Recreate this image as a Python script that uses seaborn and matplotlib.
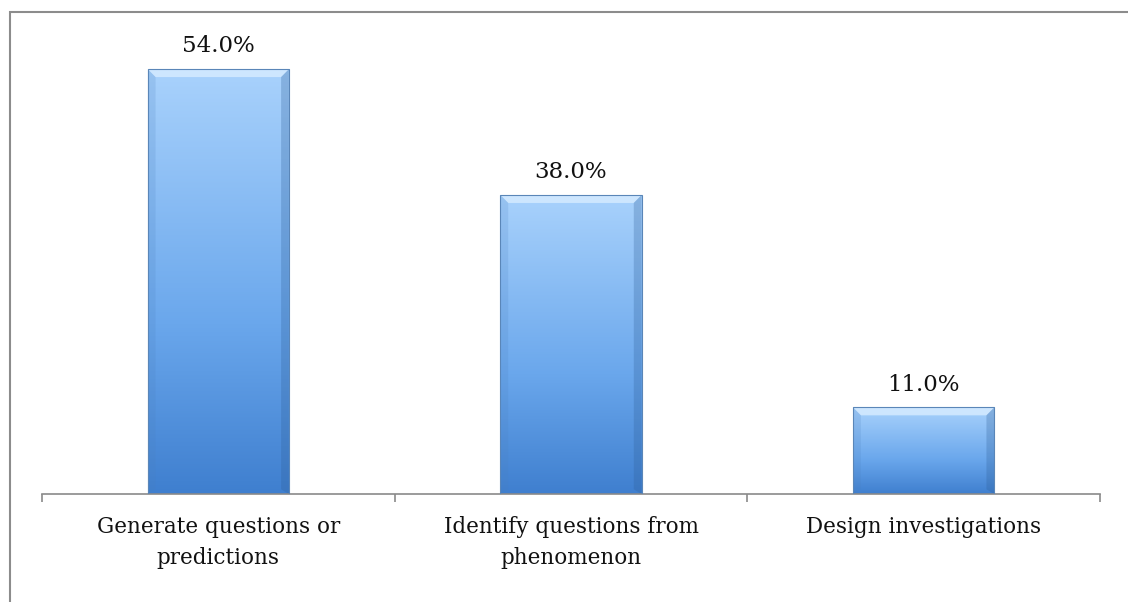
import numpy as np
import pandas as pd
import matplotlib
matplotlib.use("Agg")
import matplotlib.pyplot as plt
import seaborn as sns
from matplotlib.patches import Rectangle, Polygon
from matplotlib.colors import LinearSegmentedColormap

categories = ["Generate questions or\npredictions",
              "Identify questions from\nphenomenon",
              "Design investigations"]
values = [54.0, 38.0, 11.0]

df = pd.DataFrame({"category": categories, "value": values})

sns.set_theme(style="white")
plt.rcParams["font.family"] = ["DejaVu Serif"]

fig = plt.figure(figsize=(11.28, 6.02), dpi=100)
ax = fig.add_axes([42 / 1128, 1 - 494 / 602, (1100 - 42) / 1128, 472 / 602])

sns.barplot(data=df, x="category", y="value", color="#6fa8e8", width=0.40,
            ax=ax, saturation=1)

# gradient fill clipped to each bar, plus a simple bevel
cmap = LinearSegmentedColormap.from_list(
    "bar", [(0, "#3f7fcf"), (0.4, "#6aa7ec"), (1, "#a9d2fc")])
grad = np.linspace(0, 1, 256).reshape(-1, 1)
bx, by = 0.022, 1.0
for p in ax.patches:
    x0, y0 = p.get_x(), p.get_y()
    w, h = p.get_width(), p.get_height()
    p.set_facecolor("none")
    p.set_edgecolor("#5a86b8")
    p.set_linewidth(0.8)
    p.set_zorder(4)
    im = ax.imshow(grad, cmap=cmap, aspect="auto", origin="lower",
                   extent=[x0, x0 + w, y0, y0 + h], zorder=1)
    im.set_clip_path(p)
    x1, y1 = x0 + w, y0 + h
    ax.add_patch(Polygon([(x0, y1), (x1, y1), (x1 - bx, y1 - by), (x0 + bx, y1 - by)],
                         facecolor="#d2e9ff", edgecolor="none", zorder=2, alpha=0.9))
    ax.add_patch(Polygon([(x0, y0), (x0 + bx, y0 + by * 0.6), (x0 + bx, y1 - by), (x0, y1)],
                         facecolor="#4a7fbd", edgecolor="none", zorder=2, alpha=0.18))
    ax.add_patch(Polygon([(x1, y0), (x1 - bx, y0 + by * 0.6), (x1 - bx, y1 - by), (x1, y1)],
                         facecolor="#2f5f98", edgecolor="none", zorder=2, alpha=0.28))
    ax.text(x0 + w / 2, y1 + 1.5, f"{h:.1f}%", ha="center", va="bottom",
            fontsize=16.5, color="#111111")

ax.set_xlim(-0.5, 2.5)
ax.set_ylim(0, 60)
ax.set_ylabel("")
ax.set_xlabel("")
ax.set_yticks([])
for s in ["top", "right", "left"]:
    ax.spines[s].set_visible(False)
ax.spines["bottom"].set_color("#8a8a8a")
ax.spines["bottom"].set_linewidth(1.2)

ax.set_xticks([0, 1, 2])
ax.set_xticklabels(categories, fontsize=15.5, color="#111111", linespacing=1.5)
ax.set_xticks([-0.5, 0.5, 1.5, 2.5], minor=True)
ax.tick_params(axis="x", which="major", length=0, pad=16)
ax.tick_params(axis="x", which="minor", length=6, width=1.2, color="#8a8a8a",
               direction="out", bottom=True)

# outer chart frame
fig.patches.append(Rectangle((9.5 / 1128, -0.02), 1.05, 1 - 11.5 / 602 + 0.02,
                             transform=fig.transFigure, fill=False,
                             edgecolor="#8c8c8c", linewidth=1.5))

fig.savefig("out.png", dpi=100)
